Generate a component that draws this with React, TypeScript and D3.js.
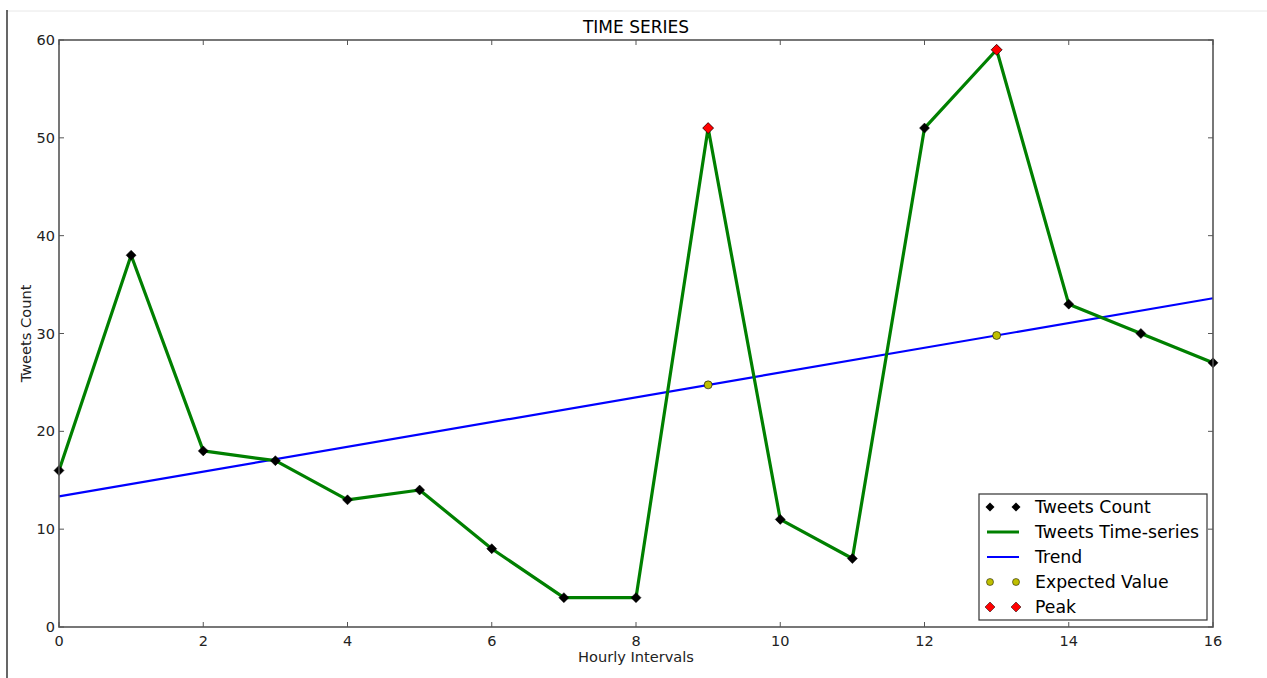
import React from "react";
import * as d3 from "d3";

const hours = [0, 1, 2, 3, 4, 5, 6, 7, 8, 9, 10, 11, 12, 13, 14, 15, 16];
const tweetCounts = [16, 38, 18, 17, 13, 14, 8, 3, 3, 51, 11, 7, 51, 59, 33, 30, 27];
const trendX = [0, 16];
const trendY = [13.35, 33.6];
const peakHours = [9, 13];
const peakValues = [51, 59];
const expectedHours = [9, 13];
const expectedValues = [24.75, 29.8];
const xTicks = [0, 2, 4, 6, 8, 10, 12, 14, 16];
const yTicks = [0, 10, 20, 30, 40, 50, 60];
const legendLabels = ["Tweets Count", "Tweets Time-series", "Trend", "Expected Value", "Peak"];

const W = 1267, H = 678;
const L = 59, R = 1213, T = 40, B = 627;
const FONT = "DejaVu Sans, sans-serif";

function diamond(cx: number, cy: number, r: number) {
  return `M${cx},${cy - r}L${cx + r},${cy}L${cx},${cy + r}L${cx - r},${cy}Z`;
}

export default function App() {
  const x = d3.scaleLinear().domain([0, 16]).range([L, R]);
  const y = d3.scaleLinear().domain([0, 60]).range([B, T]);
  const line = d3.line<number>().x((_, i) => x(hours[i])).y((d) => y(d));
  const trendLine = d3.line<number>().x((_, i) => x(trendX[i])).y((d) => y(d));
  const tl = 5;

  const legX = 979, legY = 494, legW = 228, legH = 126;
  const rowY = (i: number) => legY + 13 + i * 25;

  return (
    <svg width={W} height={H} style={{ position: "absolute", left: 0, top: 0 }}>
      <rect x={0} y={0} width={W} height={H} fill="#fff" />
      <line x1={7} y1={11} x2={W} y2={11} stroke="#e8e8e8" strokeWidth={1} />
      <line x1={7} y1={10} x2={7} y2={H} stroke="#000" strokeWidth={1.2} />
      <text x={(L + R) / 2} y={33} textAnchor="middle" fontFamily={FONT} fontSize={17} fill="#000">TIME SERIES</text>
      <g>
        <path d={trendLine(trendY) || ""} fill="none" stroke="#0000ff" strokeWidth={2.2} />
        <path d={line(tweetCounts) || ""} fill="none" stroke="#008000" strokeWidth={3.2} strokeLinejoin="round" />
        {tweetCounts.map((v, i) => (
          <path key={i} d={diamond(x(hours[i]), y(v), 5)} fill="#000" stroke="#000" strokeWidth={0.5} />
        ))}
        {expectedValues.map((v, i) => (
          <circle key={i} cx={x(expectedHours[i])} cy={y(v)} r={4} fill="#bfbf00" stroke="#000" strokeWidth={0.6} />
        ))}
        {peakValues.map((v, i) => (
          <path key={i} d={diamond(x(peakHours[i]), y(v), 5.5)} fill="#ff0000" stroke="#000" strokeWidth={0.6} />
        ))}
      </g>
      <rect x={L} y={T} width={R - L} height={B - T} fill="none" stroke="#555" strokeWidth={1.6} />
      {xTicks.map((t) => (
        <g key={t}>
          <line x1={x(t)} x2={x(t)} y1={B} y2={B - tl} stroke="#555" />
          <line x1={x(t)} x2={x(t)} y1={T} y2={T + tl} stroke="#555" />
          <text x={x(t)} y={B + 19} textAnchor="middle" fontFamily={FONT} fontSize={14.5} fill="#222">{t}</text>
        </g>
      ))}
      {yTicks.map((t) => (
        <g key={t}>
          <line x1={L} x2={L + tl} y1={y(t)} y2={y(t)} stroke="#555" />
          <line x1={R} x2={R - tl} y1={y(t)} y2={y(t)} stroke="#555" />
          <text x={L - 4} y={y(t) + 5} textAnchor="end" fontFamily={FONT} fontSize={14.5} fill="#222">{t}</text>
        </g>
      ))}
      <text x={(L + R) / 2} y={662} textAnchor="middle" fontFamily={FONT} fontSize={14.6} fill="#222">Hourly Intervals</text>
      <text transform={`translate(31,${(T + B) / 2}) rotate(-90)`} textAnchor="middle" fontFamily={FONT} fontSize={14.6} fill="#222">Tweets Count</text>
      <g>
        <rect x={legX} y={legY} width={legW} height={legH} fill="#fff" stroke="#333" strokeWidth={1.2} />
        {legendLabels.map((lab, i) => (
          <text key={lab} x={legX + 56} y={rowY(i) + 6} fontFamily={FONT} fontSize={17.3} fill="#000">{lab}</text>
        ))}
        <path d={diamond(legX + 11, rowY(0), 4.5)} fill="#000" />
        <path d={diamond(legX + 37, rowY(0), 4.5)} fill="#000" />
        <line x1={legX + 8} x2={legX + 40} y1={rowY(1)} y2={rowY(1)} stroke="#008000" strokeWidth={3} />
        <line x1={legX + 8} x2={legX + 40} y1={rowY(2)} y2={rowY(2)} stroke="#0000ff" strokeWidth={2} />
        <circle cx={legX + 11} cy={rowY(3)} r={3.5} fill="#bfbf00" stroke="#000" strokeWidth={0.5} />
        <circle cx={legX + 37} cy={rowY(3)} r={3.5} fill="#bfbf00" stroke="#000" strokeWidth={0.5} />
        <path d={diamond(legX + 11, rowY(4), 5)} fill="#ff0000" stroke="#000" strokeWidth={0.5} />
        <path d={diamond(legX + 37, rowY(4), 5)} fill="#ff0000" stroke="#000" strokeWidth={0.5} />
      </g>
    </svg>
  );
}
